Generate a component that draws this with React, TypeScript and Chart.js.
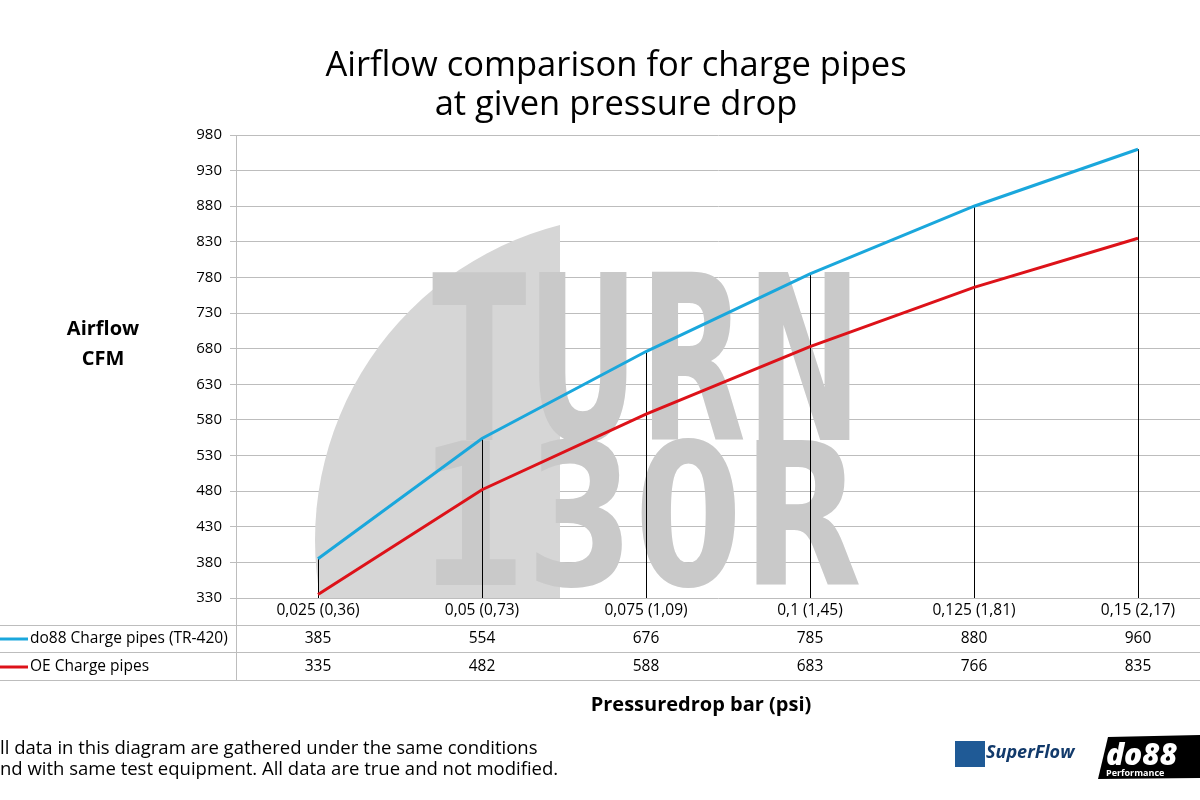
import { useEffect, useRef } from "react";
import { Chart, registerables } from "chart.js";
Chart.register(...registerables);

const categories = ["0,025 (0,36)", "0,05 (0,73)", "0,075 (1,09)", "0,1 (1,45)", "0,125 (1,81)", "0,15 (2,17)"];
const do88 = [385, 554, 676, 785, 880, 960];
const oe = [335, 482, 588, 683, 766, 835];
const seriesNames = ["do88 Charge pipes (TR-420)", "OE Charge pipes"];
const BLUE = "#1aa7dc";
const RED = "#dd1219";
const FONT = "'Open Sans', sans-serif";

export default function App() {
  const ref = useRef<HTMLCanvasElement>(null);
  useEffect(() => {
    document.body.style.margin = "0";
    const ctxEl = ref.current!;
    const deco = {
      id: "deco",
      beforeDatasetsDraw(chart: any) {
        const { ctx, chartArea: a, scales } = chart;
        ctx.save();
        ctx.beginPath();
        ctx.rect(a.left, a.top, 560 - a.left, a.bottom - a.top);
        ctx.clip();
        ctx.fillStyle = "#d6d6d6";
        ctx.beginPath();
        ctx.arc(640, 540, 325, 0, Math.PI * 2);
        ctx.fill();
        ctx.restore();
        ctx.save();
        ctx.fillStyle = "#c9c9c9";
        ctx.font = `bold 200px 'DejaVu Sans', sans-serif`;
        ctx.textBaseline = "alphabetic";
        const drawFit = (t: string, x0: number, x1: number, yTop: number, yBot: number) => {
          const m = ctx.measureText(t);
          const h = 200 * 0.73;
          ctx.save();
          ctx.translate(x0, yBot);
          ctx.scale((x1 - x0) / m.width, (yBot - yTop) / h);
          ctx.fillText(t, 0, 0);
          ctx.restore();
        };
        drawFit("TURN", 432, 862, 272, 440);
        drawFit("130R", 418, 862, 440, 585);
        ctx.restore();
        const x = scales.x, y = scales.y;
        ctx.save();
        ctx.strokeStyle = "#000";
        ctx.lineWidth = 1;
        do88.forEach((v, i) => {
          const px = Math.round(x.getPixelForValue(i)) + 0.5;
          ctx.beginPath();
          ctx.moveTo(px, y.getPixelForValue(v));
          ctx.lineTo(px, a.bottom);
          ctx.stroke();
        });
        ctx.restore();
      },
      afterDraw(chart: any) {
        const { ctx, chartArea: a, scales } = chart;
        const x = scales.x;
        ctx.save();
        ctx.fillStyle = "#000";
        ctx.textAlign = "center";
        ctx.textBaseline = "middle";
        ctx.font = `34.5px ${FONT}`;
        ctx.fillText("Airflow comparison for charge pipes", 616, 66);
        ctx.fillText("at given pressure drop", 616, 105);
        ctx.font = `bold 20px ${FONT}`;
        ctx.fillText("Airflow", 103, 329);
        ctx.fillText("CFM", 103, 359);
        ctx.fillText("Pressuredrop bar (psi)", 701, 705);
        ctx.strokeStyle = "#bdbdbd";
        ctx.lineWidth = 1;
        [625.5, 652.5, 680.5].forEach((yy) => {
          ctx.beginPath(); ctx.moveTo(0, yy); ctx.lineTo(1200, yy); ctx.stroke();
        });
        ctx.beginPath(); ctx.moveTo(a.left + 0.5, a.bottom); ctx.lineTo(a.left + 0.5, 681); ctx.stroke();
        ctx.font = `15.5px ${FONT}`;
        categories.forEach((c, i) => {
          const px = x.getPixelForValue(i);
          ctx.fillText(c, px, 611);
          ctx.fillText(String(do88[i]), px, 639);
          ctx.fillText(String(oe[i]), px, 667);
        });
        ctx.textAlign = "left";
        ctx.fillText(seriesNames[0], 30, 639);
        ctx.fillText(seriesNames[1], 30, 667);
        ctx.lineWidth = 3;
        ctx.strokeStyle = BLUE;
        ctx.beginPath(); ctx.moveTo(0, 639); ctx.lineTo(28, 639); ctx.stroke();
        ctx.strokeStyle = RED;
        ctx.beginPath(); ctx.moveTo(0, 667); ctx.lineTo(28, 667); ctx.stroke();
        ctx.font = `18.5px ${FONT}`;
        ctx.fillText("ll data in this diagram are gathered under the same conditions", 0, 749);
        ctx.fillText("nd with same test equipment. All data are true and not modified.", 0, 770);
        ctx.fillStyle = "#1f5a96";
        ctx.fillRect(955, 741, 30, 26);
        ctx.fillStyle = "#123a6b";
        ctx.font = `italic bold 18px ${FONT}`;
        ctx.fillText("SuperFlow", 986, 753);
        ctx.fillStyle = "#000";
        ctx.beginPath();
        ctx.moveTo(1108, 737); ctx.lineTo(1200, 735); ctx.lineTo(1200, 778); ctx.lineTo(1098, 779); ctx.closePath();
        ctx.fill();
        ctx.fillStyle = "#fff";
        ctx.font = `italic 900 30px ${FONT}`;
        ctx.fillText("do88", 1106, 756);
        ctx.font = `bold 9px ${FONT}`;
        ctx.fillText("Performance", 1106, 773);
        ctx.restore();
      },
    };
    const chart = new Chart(ctxEl, {
      type: "line",
      data: {
        datasets: [
          { label: seriesNames[0], data: do88.map((v, i) => ({ x: i, y: v })), borderColor: BLUE, borderWidth: 3, pointRadius: 0, tension: 0 },
          { label: seriesNames[1], data: oe.map((v, i) => ({ x: i, y: v })), borderColor: RED, borderWidth: 3, pointRadius: 0, tension: 0 },
        ],
      },
      options: {
        animation: false,
        responsive: false,
        layout: { padding: { left: 0, top: 135, right: 0, bottom: 202 } },
        plugins: { legend: { display: false }, tooltip: { enabled: false } },
        scales: {
          x: { type: "linear", min: -0.5, max: 5.378, display: false },
          y: {
            min: 330, max: 980,
            afterFit: (s: any) => { s.width = 236; },
            afterBuildTicks: (s: any) => {
              const t = [];
              for (let v = 330; v <= 980; v += 50) t.push({ value: v });
              s.ticks = t;
            },
            ticks: { color: "#000", font: { family: FONT, size: 15 }, padding: 8 },
            grid: { color: "#bdbdbd", tickLength: 6 },
            border: { color: "#bdbdbd" },
          },
        },
      },
      plugins: [deco],
    });
    return () => chart.destroy();
  }, []);
  return <canvas ref={ref} width={1200} height={800} style={{ display: "block" }} />;
}
